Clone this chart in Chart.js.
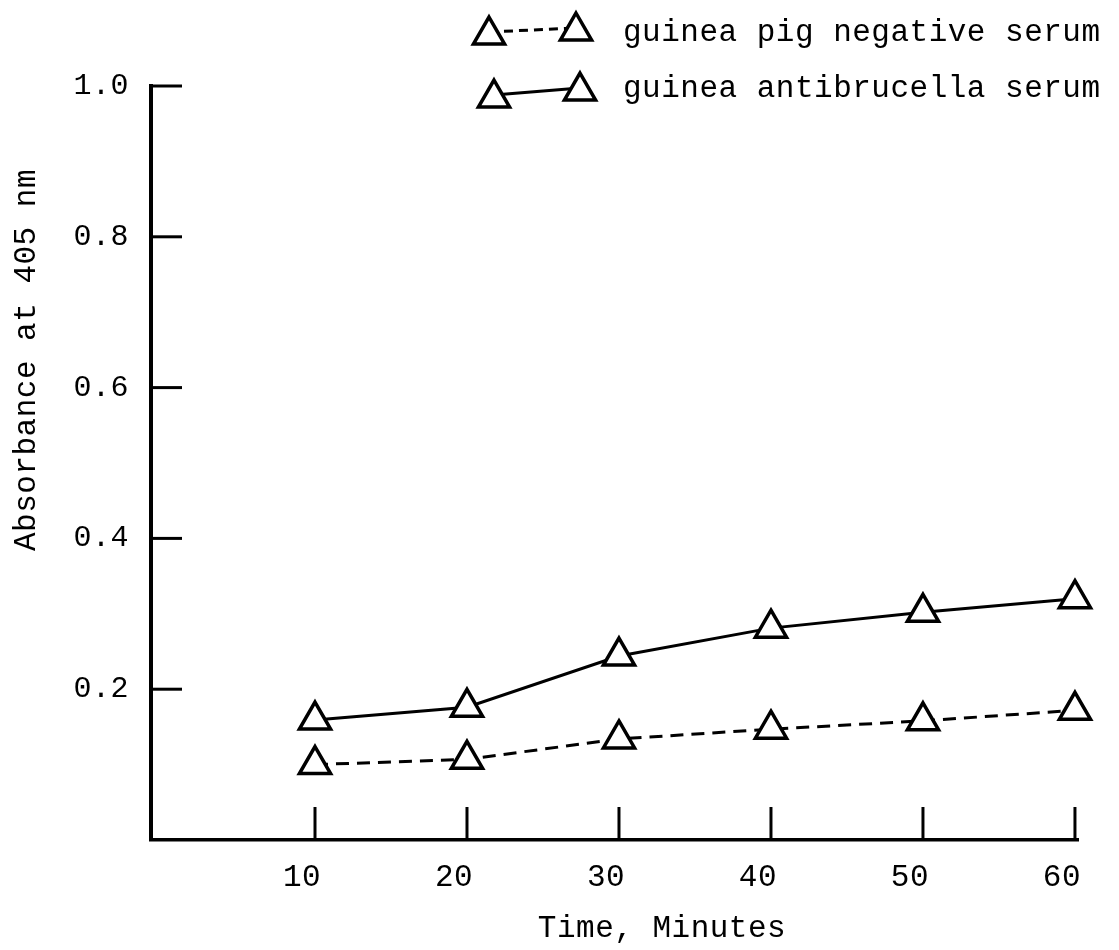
<!DOCTYPE html>
<html><head><meta charset="utf-8">
<script src="https://cdn.jsdelivr.net/npm/chart.js@4/dist/chart.umd.min.js"></script>
<style>html,body{margin:0;padding:0;background:#fff}#wrap{width:1119px;height:950px;position:relative}</style>
</head><body><div id="wrap"><canvas id="c"></canvas></div>
<script>
const timeMinutes = [10, 20, 30, 40, 50, 60];
const negativeSerum = [0.100, 0.107, 0.134, 0.147, 0.158, 0.172];
const antibrucellaSerum = [0.159, 0.176, 0.244, 0.281, 0.302, 0.320];
const xTickValues = [10, 20, 30, 40, 50, 60];
const yTickValues = [0.2, 0.4, 0.6, 0.8, 1.0];
const seriesNames = ['guinea pig negative serum', 'guinea antibrucella serum'];
const xTitle = 'Time, Minutes';
const yTitle = 'Absorbance at 405 nm';

const FONT = "'Liberation Mono', 'Courier New', monospace";

function toPoints(xs, ys) { return xs.map((x, i) => ({x: x, y: ys[i]})); }

function tri(ctx, x, y, r) {
  ctx.beginPath();
  for (let k = 0; k < 3; k++) {
    const a = k * 2 * Math.PI / 3;
    const px = x + Math.sin(a) * r, py = y - Math.cos(a) * r;
    if (k === 0) ctx.moveTo(px, py); else ctx.lineTo(px, py);
  }
  ctx.closePath();
  ctx.fillStyle = '#fff';
  ctx.fill();
  ctx.lineWidth = 3.5;
  ctx.strokeStyle = '#000';
  ctx.stroke();
}

const spacingPlugin = {
  id: 'spacing',
  beforeDraw(chart) { chart.ctx.letterSpacing = '0.5px'; }
};

const decorPlugin = {
  id: 'decor',
  beforeDatasetsDraw(chart) {
    const ctx = chart.ctx;
    const xs = chart.scales.x, ys = chart.scales.y;
    const area = chart.chartArea;
    ctx.save();
    ctx.strokeStyle = '#000';
    ctx.lineCap = 'butt';
    ctx.lineWidth = 3;
    ys.ticks.forEach(t => {
      const py = ys.getPixelForValue(t.value);
      ctx.beginPath(); ctx.moveTo(area.left, py); ctx.lineTo(area.left + 31, py); ctx.stroke();
    });
    xs.ticks.forEach(t => {
      const px = xs.getPixelForValue(t.value);
      ctx.beginPath(); ctx.moveTo(px, area.bottom); ctx.lineTo(px, area.bottom - 33); ctx.stroke();
    });
    ctx.restore();
  },
  afterDraw(chart) {
    const ctx = chart.ctx;
    ctx.save();
    ctx.fillStyle = '#000';
    ctx.letterSpacing = '0.5px';
    ctx.font = "31px " + FONT;
    ctx.textBaseline = 'middle';
    // axis titles
    ctx.textAlign = 'center';
    ctx.fillText(xTitle, 662, 929);
    ctx.save();
    ctx.translate(27, 360);
    ctx.rotate(-Math.PI / 2);
    ctx.fillText(yTitle, 0, 0);
    ctx.restore();
    // legend
    const items = [
      {y1: 35, y2: 31, x1: 489, x2: 576, dash: [9, 6]},
      {y1: 98, y2: 91, x1: 494, x2: 580, dash: []}
    ];
    items.forEach((it, i) => {
      ctx.save();
      ctx.lineWidth = 3;
      ctx.setLineDash(it.dash);
      ctx.strokeStyle = '#000';
      ctx.beginPath(); ctx.moveTo(it.x1, it.y1 - 3); ctx.lineTo(it.x2, it.y2 - 3); ctx.stroke();
      ctx.setLineDash([]);
      tri(ctx, it.x1, it.y1, 18);
      tri(ctx, it.x2, it.y2, 18);
      ctx.restore();
      ctx.textAlign = 'left';
      ctx.fillText(seriesNames[i], 623, i === 0 ? 33 : 89);
    });
    ctx.restore();
  }
};

new Chart(document.getElementById('c'), {
  type: 'line',
  data: {
    datasets: [
      {
        label: seriesNames[0],
        data: toPoints(timeMinutes, negativeSerum),
        borderColor: '#000', borderWidth: 3, borderDash: [13, 8],
        pointStyle: 'triangle', pointRadius: 18, pointBorderWidth: 3.5,
        pointBackgroundColor: '#fff', pointBorderColor: '#000',
        tension: 0, clip: false, fill: false
      },
      {
        label: seriesNames[1],
        data: toPoints(timeMinutes, antibrucellaSerum),
        borderColor: '#000', borderWidth: 3,
        pointStyle: 'triangle', pointRadius: 18, pointBorderWidth: 3.5,
        pointBackgroundColor: '#fff', pointBorderColor: '#000',
        tension: 0, clip: false, fill: false
      }
    ]
  },
  options: {
    responsive: true,
    maintainAspectRatio: false,
    animation: false,
    events: [],
    layout: { padding: { left: 0, top: 86, right: 41, bottom: 0 } },
    plugins: { legend: { display: false }, tooltip: { enabled: false } },
    scales: {
      x: {
        type: 'linear', min: -0.79, max: 60.2,
        afterBuildTicks: s => { s.ticks = xTickValues.map(v => ({value: v})); },
        afterFit: s => { s.height = 110; },
        grid: { display: true, drawOnChartArea: false, drawTicks: false },
        border: { display: true, color: '#000', width: 3.5 },
        ticks: {
          color: '#000', font: { family: FONT, size: 31 }, padding: 19, labelOffset: -13,
          maxRotation: 0, autoSkip: false,
          callback: v => String(v)
        }
      },
      y: {
        type: 'linear', min: 0, max: 1.0,
        afterBuildTicks: s => { s.ticks = yTickValues.map(v => ({value: v})); },
        afterFit: s => { s.width = 151; },
        grid: { display: true, drawOnChartArea: false, drawTicks: false },
        border: { display: true, color: '#000', width: 4 },
        ticks: {
          color: '#000', font: { family: FONT, size: 30 }, padding: 22,
          autoSkip: false,
          callback: v => v.toFixed(1)
        }
      }
    }
  },
  plugins: [spacingPlugin, decorPlugin]
});
</script>
</body></html>
